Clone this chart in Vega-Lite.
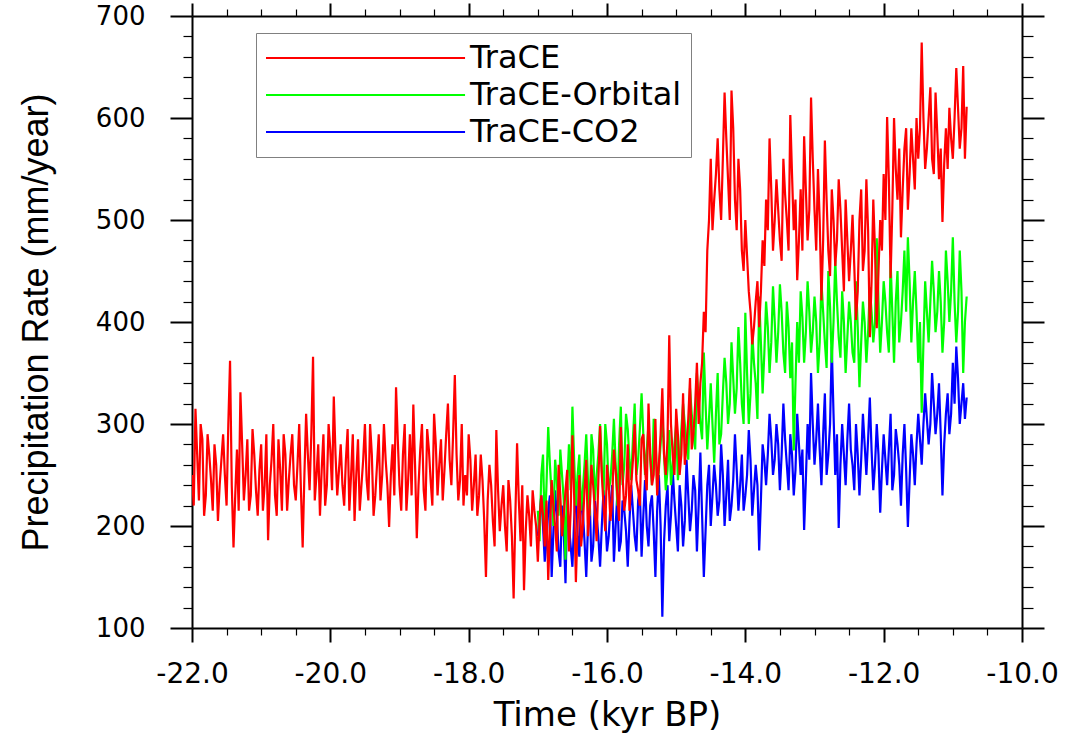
{
"$schema": "https://vega.github.io/schema/vega-lite/v6.json",
"width": 830, "height": 612,
"autosize": {"type": "none"},
"padding": {"left": 192, "top": 16, "right": 43, "bottom": 113},
"background": "white",
"config": {
  "view": {"stroke": null},
  "axis": {"domainColor": "black", "domainWidth": 2, "tickColor": "black", "labelColor": "black", "titleColor": "black", "grid": false, "labelFont": "DejaVu Sans", "titleFont": "DejaVu Sans", "titleFontWeight": "normal", "labelOverlap": false, "labelFlush": false, "labelBound": false}
},
"data": {"values": [
{"t":-22.00,"r":250},{"t":-21.95,"r":315},{"t":-21.90,"r":225},{"t":-21.85,"r":285},{"t":-21.80,"r":230},{"t":-21.75,"r":270},{"t":-21.70,"r":215},{"t":-21.65,"r":260},{"t":-21.60,"r":240},{"t":-21.55,"r":290},{"t":-21.50,"r":220},{"t":-21.45,"r":362},{"t":-21.40,"r":179},{"t":-21.35,"r":275},{"t":-21.30,"r":331},{"t":-21.25,"r":225},{"t":-21.20,"r":285},{"t":-21.15,"r":230},{"t":-21.10,"r":270},{"t":-21.05,"r":210},{"t":-21.00,"r":280},{"t":-20.95,"r":240},{"t":-20.90,"r":186},{"t":-20.85,"r":265},{"t":-20.80,"r":230},{"t":-20.75,"r":285},{"t":-20.70,"r":215},{"t":-20.65,"r":270},{"t":-20.60,"r":245},{"t":-20.55,"r":290},{"t":-20.50,"r":225},{"t":-20.45,"r":300},{"t":-20.40,"r":179},{"t":-20.35,"r":310},{"t":-20.30,"r":235},{"t":-20.25,"r":366},{"t":-20.20,"r":250},{"t":-20.15,"r":210},{"t":-20.10,"r":290},{"t":-20.05,"r":240},{"t":-20.00,"r":275},{"t":-19.95,"r":327},{"t":-19.90,"r":230},{"t":-19.85,"r":280},{"t":-19.80,"r":220},{"t":-19.75,"r":295},{"t":-19.70,"r":250},{"t":-19.65,"r":205},{"t":-19.60,"r":285},{"t":-19.55,"r":240},{"t":-19.50,"r":300},{"t":-19.45,"r":225},{"t":-19.40,"r":270},{"t":-19.35,"r":230},{"t":-19.30,"r":290},{"t":-19.25,"r":250},{"t":-19.20,"r":265},{"t":-19.15,"r":199},{"t":-19.10,"r":280},{"t":-19.05,"r":336},{"t":-19.00,"r":240},
{"t":-18.95,"r":270},{"t":-18.90,"r":215},{"t":-18.85,"r":290},{"t":-18.80,"r":319},{"t":-18.75,"r":188},{"t":-18.70,"r":275},{"t":-18.65,"r":235},{"t":-18.60,"r":295},{"t":-18.55,"r":245},{"t":-18.50,"r":310},{"t":-18.45,"r":230},{"t":-18.40,"r":285},{"t":-18.35,"r":255},{"t":-18.30,"r":320},{"t":-18.25,"r":240},{"t":-18.20,"r":348},{"t":-18.15,"r":225},{"t":-18.10,"r":300},{"t":-18.05,"r":250},{"t":-18.00,"r":290},{"t":-17.95,"r":215},{"t":-17.90,"r":270},{"t":-17.85,"r":230},{"t":-17.80,"r":245},{"t":-17.75,"r":150},{"t":-17.70,"r":260},{"t":-17.65,"r":205},{"t":-17.60,"r":294},{"t":-17.55,"r":195},{"t":-17.50,"r":240},{"t":-17.45,"r":175},{"t":-17.40,"r":225},{"t":-17.35,"r":129},{"t":-17.30,"r":281},{"t":-17.25,"r":185},{"t":-17.20,"r":137},{"t":-17.15,"r":230},{"t":-17.10,"r":180},{"t":-17.05,"r":215},
{"t":-17.00,"r":165,"g":215,"b":190},{"t":-16.95,"r":230,"g":250,"b":230},{"t":-16.90,"r":180,"g":195,"b":165},{"t":-16.85,"r":147,"g":297,"b":215},{"t":-16.80,"r":245,"g":230,"b":150},{"t":-16.75,"r":200,"g":265,"b":235},{"t":-16.70,"r":260,"g":210,"b":175},{"t":-16.65,"r":190,"g":250,"b":220},{"t":-16.60,"r":235,"g":167,"b":144},{"t":-16.55,"r":175,"g":280,"b":200},{"t":-16.50,"r":289,"g":317,"b":160},{"t":-16.45,"r":145,"g":220,"b":240},{"t":-16.40,"r":250,"g":270,"b":170},{"t":-16.35,"r":200,"g":235,"b":215},{"t":-16.30,"r":265,"g":290,"b":150},{"t":-16.25,"r":215,"g":210,"b":225},{"t":-16.20,"r":240,"g":275,"b":180},{"t":-16.15,"r":185,"g":250,"b":210},{"t":-16.10,"r":298,"g":300,"b":160},{"t":-16.05,"r":220,"g":230,"b":235},{"t":-16.00,"r":260,"g":280,"b":175},{"t":-15.95,"r":205,"g":245,"b":220},{"t":-15.90,"r":275,"g":305,"b":165},{"t":-15.85,"r":230,"g":220,"b":232},{"t":-15.80,"r":297,"g":317,"b":185},{"t":-15.75,"r":215,"g":260,"b":215},{"t":-15.70,"r":280,"g":295,"b":160},{"t":-15.65,"r":240,"g":245,"b":240},{"t":-15.60,"r":300,"g":320,"b":190},{"t":-15.55,"r":235,"g":265,"b":225},{"t":-15.50,"r":285,"g":330,"b":170},{"t":-15.45,"r":255,"g":250,"b":245},{"t":-15.40,"r":320,"g":300,"b":180},{"t":-15.35,"r":240,"g":240,"b":230},{"t":-15.30,"r":305,"g":290,"b":150},{"t":-15.25,"r":260,"g":255,"b":250},{"t":-15.20,"r":335,"g":310,"b":111},{"t":-15.15,"r":250,"g":235,"b":220},{"t":-15.10,"r":387,"g":294,"b":185},{"t":-15.05,"r":270,"g":260,"b":255},{"t":-15.00,"r":315,"g":300,"b":200},{"t":-14.95,"r":250,"g":265,"b":240},{"t":-14.90,"r":330,"g":320,"b":180},{"t":-14.85,"r":280,"g":280,"b":265},{"t":-14.80,"r":345,"g":335,"b":195},{"t":-14.75,"r":290,"g":290,"b":250},{"t":-14.70,"r":360,"g":350,"b":175},{"t":-14.65,"r":340,"g":300,"b":272},{"t":-14.60,"r":410,"g":370,"b":150},{"t":-14.55,"r":470,"g":275,"b":240},{"t":-14.50,"r":560,"g":340,"b":200},{"t":-14.45,"r":520,"g":262,"b":260},{"t":-14.40,"r":580,"g":350,"b":210},{"t":-14.35,"r":500,"g":290,"b":280},{"t":-14.30,"r":625,"g":365,"b":200},{"t":-14.25,"r":540,"g":300,"b":265},{"t":-14.20,"r":627,"g":380,"b":220},{"t":-14.15,"r":520,"g":310,"b":290},{"t":-14.10,"r":560,"g":395,"b":215},{"t":-14.05,"r":470,"g":320,"b":270},{"t":-14.00,"r":500,"g":409,"b":230},{"t":-13.95,"r":430,"g":300,"b":294},{"t":-13.90,"r":378,"g":390,"b":210},{"t":-13.85,"r":420,"g":340,"b":260},{"t":-13.80,"r":395,"g":425,"b":176},{"t":-13.75,"r":480,"g":330,"b":280},{"t":-13.70,"r":520,"g":420,"b":240},{"t":-13.65,"r":580,"g":350,"b":310},{"t":-13.60,"r":470,"g":435,"b":250},{"t":-13.55,"r":540,"g":360,"b":300},{"t":-13.50,"r":480,"g":437,"b":235},{"t":-13.45,"r":560,"g":370,"b":320},{"t":-13.40,"r":500,"g":420,"b":260},{"t":-13.35,"r":603,"g":345,"b":290},{"t":-13.30,"r":490,"g":274,"b":230},{"t":-13.25,"r":441,"g":400,"b":310},{"t":-13.20,"r":530,"g":430,"b":250},{"t":-13.15,"r":582,"g":360,"b":196},{"t":-13.10,"r":480,"g":440,"b":300},{"t":-13.05,"r":620,"g":370,"b":350},{"t":-13.00,"r":510,"g":425,"b":260},{"t":-12.95,"r":550,"g":350,"b":320},{"t":-12.90,"r":421,"g":440,"b":240},{"t":-12.85,"r":578,"g":380,"b":330},{"t":-12.80,"r":470,"g":450,"b":270},{"t":-12.75,"r":530,"g":360,"b":376},{"t":-12.70,"r":455,"g":461,"b":250},{"t":-12.65,"r":540,"g":385,"b":198},{"t":-12.60,"r":470,"g":430,"b":300},{"t":-12.55,"r":520,"g":350,"b":240},{"t":-12.50,"r":440,"g":420,"b":320},{"t":-12.45,"r":505,"g":370,"b":260},{"t":-12.40,"r":402,"g":440,"b":300},{"t":-12.35,"r":500,"g":336,"b":230},{"t":-12.30,"r":450,"g":420,"b":310},{"t":-12.25,"r":540,"g":360,"b":250},{"t":-12.20,"r":385,"g":434,"b":326},{"t":-12.15,"r":520,"g":380,"b":235},{"t":-12.10,"r":394,"g":482,"b":300},{"t":-12.05,"r":500,"g":370,"b":213},{"t":-12.00,"r":545,"g":440,"b":290},{"t":-11.95,"r":601,"g":390,"b":240},{"t":-11.90,"r":443,"g":460,"b":310},{"t":-11.85,"r":600,"g":360,"b":250},{"t":-11.80,"r":520,"g":450,"b":280},{"t":-11.75,"r":483,"g":400,"b":220},{"t":-11.70,"r":570,"g":470,"b":300},{"t":-11.65,"r":510,"g":483,"b":199},{"t":-11.60,"r":590,"g":380,"b":290},{"t":-11.55,"r":530,"g":450,"b":240},{"t":-11.50,"r":560,"g":360,"b":310},{"t":-11.45,"r":674,"g":311,"b":260},{"t":-11.40,"r":550,"g":440,"b":330},{"t":-11.35,"r":600,"g":380,"b":280},{"t":-11.30,"r":560,"g":460,"b":350},{"t":-11.25,"r":625,"g":390,"b":290},{"t":-11.20,"r":540,"g":450,"b":340},{"t":-11.15,"r":498,"g":370,"b":230},{"t":-11.10,"r":590,"g":470,"b":310},{"t":-11.05,"r":610,"g":400,"b":290},{"t":-11.00,"r":560,"g":483,"b":360},{"t":-10.95,"r":649,"g":380,"b":376},{"t":-10.90,"r":570,"g":470,"b":300},{"t":-10.85,"r":651,"g":350,"b":340},{"t":-10.80,"r":611,"g":425,"b":326},
{"t":-21.975,"r":220},{"t":-21.925,"r":270},{"t":-21.875,"r":300},{"t":-21.825,"r":210},{"t":-21.775,"r":290},{"t":-21.725,"r":245},{"t":-21.675,"r":280},{"t":-21.625,"r":205},{"t":-21.575,"r":265},{"t":-21.525,"r":250},{"t":-21.475,"r":300},{"t":-21.425,"r":240},{"t":-21.375,"r":230},{"t":-21.325,"r":215},{"t":-21.275,"r":280},{"t":-21.225,"r":250},{"t":-21.175,"r":215},{"t":-21.125,"r":295},{"t":-21.075,"r":235},{"t":-21.025,"r":255},{"t":-20.975,"r":215},{"t":-20.925,"r":290},{"t":-20.875,"r":240},{"t":-20.825,"r":300},{"t":-20.775,"r":210},{"t":-20.725,"r":255},{"t":-20.675,"r":290},{"t":-20.625,"r":215},{"t":-20.575,"r":270},{"t":-20.525,"r":240},{"t":-20.475,"r":260},{"t":-20.425,"r":235},{"t":-20.375,"r":250},{"t":-20.325,"r":270},{"t":-20.275,"r":290},{"t":-20.225,"r":225},{"t":-20.175,"r":280},{"t":-20.125,"r":255},{"t":-20.075,"r":220},{"t":-20.025,"r":300},{"t":-19.975,"r":235},{"t":-19.925,"r":270},{"t":-19.875,"r":255},{"t":-19.825,"r":240},{"t":-19.775,"r":265},{"t":-19.725,"r":215},{"t":-19.675,"r":290},{"t":-19.625,"r":250},{"t":-19.575,"r":215},{"t":-19.525,"r":265},{"t":-19.475,"r":245},{"t":-19.425,"r":300},{"t":-19.375,"r":210},{"t":-19.325,"r":260},{"t":-19.275,"r":225},{"t":-19.225,"r":300},{"t":-19.175,"r":240},{"t":-19.125,"r":250},{"t":-19.075,"r":230},{"t":-19.025,"r":285},
{"t":-18.975,"r":215},{"t":-18.925,"r":300},{"t":-18.875,"r":245},{"t":-18.825,"r":230},{"t":-18.775,"r":260},{"t":-18.725,"r":240},{"t":-18.675,"r":300},{"t":-18.625,"r":215},{"t":-18.575,"r":275},{"t":-18.525,"r":220},{"t":-18.475,"r":280},{"t":-18.425,"r":260},{"t":-18.375,"r":225},{"t":-18.325,"r":290},{"t":-18.275,"r":265},{"t":-18.225,"r":290},{"t":-18.175,"r":270},{"t":-18.125,"r":245},{"t":-18.075,"r":220},{"t":-18.025,"r":230},{"t":-17.975,"r":265},{"t":-17.925,"r":240},{"t":-17.875,"r":210},{"t":-17.825,"r":270},{"t":-17.775,"r":205},{"t":-17.725,"r":225},{"t":-17.675,"r":240},{"t":-17.625,"r":180},{"t":-17.575,"r":235},{"t":-17.525,"r":220},{"t":-17.475,"r":200},{"t":-17.425,"r":245},{"t":-17.375,"r":190},{"t":-17.325,"r":210},{"t":-17.275,"r":225},{"t":-17.225,"r":240},{"t":-17.175,"r":195},{"t":-17.125,"r":210},{"t":-17.075,"r":235},{"t":-17.025,"r":200},
{"t":-16.975,"r":205,"g":185,"b":210},{"t":-16.925,"r":210,"g":270,"b":200},{"t":-16.875,"r":225,"g":240,"b":185},{"t":-16.825,"r":195,"g":260,"b":230},{"t":-16.775,"r":220,"g":200,"b":195},{"t":-16.725,"r":175,"g":245,"b":210},{"t":-16.675,"r":230,"g":275,"b":160},{"t":-16.625,"r":210,"g":225,"b":195},{"t":-16.575,"r":255,"g":240,"b":220},{"t":-16.525,"r":215,"g":235,"b":180},{"t":-16.475,"r":230,"g":265,"b":205},{"t":-16.425,"r":200,"g":250,"b":190},{"t":-16.375,"r":180,"g":215,"b":230},{"t":-16.325,"r":235,"g":260,"b":185},{"t":-16.275,"r":190,"g":245,"b":200},{"t":-16.225,"r":260,"g":290,"b":165},{"t":-16.175,"r":215,"g":225,"b":225},{"t":-16.125,"r":245,"g":270,"b":190},{"t":-16.075,"r":250,"g":255,"b":200},{"t":-16.025,"r":195,"g":300,"b":210},{"t":-15.975,"r":240,"g":235,"b":190},{"t":-15.925,"r":225,"g":270,"b":240},{"t":-15.875,"r":255,"g":260,"b":200},{"t":-15.825,"r":205,"g":280,"b":175},{"t":-15.775,"r":250,"g":240,"b":225},{"t":-15.725,"r":230,"g":310,"b":195},{"t":-15.675,"r":215,"g":265,"b":205},{"t":-15.625,"r":265,"g":285,"b":215},{"t":-15.575,"r":245,"g":250,"b":175},{"t":-15.525,"r":220,"g":295,"b":235},{"t":-15.475,"r":290,"g":290,"b":210},{"t":-15.425,"r":235,"g":275,"b":200},{"t":-15.375,"r":270,"g":265,"b":220},{"t":-15.325,"r":250,"g":305,"b":195},{"t":-15.275,"r":230,"g":235,"b":215},{"t":-15.225,"r":290,"g":280,"b":200},{"t":-15.175,"r":270,"g":270,"b":185},{"t":-15.125,"r":285,"g":255,"b":240},{"t":-15.075,"r":300,"g":240,"b":210},{"t":-15.025,"r":250,"g":280,"b":225},{"t":-14.975,"r":290,"g":245,"b":175},{"t":-14.925,"r":270,"g":295,"b":220},{"t":-14.875,"r":260,"g":300,"b":205},{"t":-14.825,"r":305,"g":265,"b":230},{"t":-14.775,"r":275,"g":310,"b":215},{"t":-14.725,"r":320,"g":275,"b":235},{"t":-14.675,"r":300,"g":325,"b":220},{"t":-14.625,"r":360,"g":285,"b":210},{"t":-14.575,"r":390,"g":320,"b":195},{"t":-14.525,"r":500,"g":305,"b":260},{"t":-14.475,"r":490,"g":300,"b":230},{"t":-14.425,"r":545,"g":310,"b":240},{"t":-14.375,"r":530,"g":280,"b":225},{"t":-14.325,"r":560,"g":330,"b":250},{"t":-14.275,"r":580,"g":340,"b":230},{"t":-14.225,"r":500,"g":320,"b":205},{"t":-14.175,"r":590,"g":345,"b":245},{"t":-14.125,"r":490,"g":335,"b":255},{"t":-14.075,"r":530,"g":360,"b":240},{"t":-14.025,"r":450,"g":300,"b":215},{"t":-13.975,"r":465,"g":350,"b":250},{"t":-13.925,"r":410,"g":330,"b":265},{"t":-13.875,"r":395,"g":360,"b":235},{"t":-13.825,"r":440,"g":305,"b":240},{"t":-13.775,"r":430,"g":380,"b":225},{"t":-13.725,"r":455,"g":370,"b":265},{"t":-13.675,"r":490,"g":395,"b":270},{"t":-13.625,"r":530,"g":380,"b":285},{"t":-13.575,"r":500,"g":400,"b":265},{"t":-13.525,"r":510,"g":390,"b":280},{"t":-13.475,"r":460,"g":410,"b":270},{"t":-13.425,"r":525,"g":350,"b":285},{"t":-13.375,"r":470,"g":395,"b":235},{"t":-13.325,"r":545,"g":380,"b":270},{"t":-13.275,"r":520,"g":340,"b":255},{"t":-13.225,"r":480,"g":360,"b":280},{"t":-13.175,"r":470,"g":405,"b":275},{"t":-13.125,"r":530,"g":390,"b":245},{"t":-13.075,"r":510,"g":410,"b":265},{"t":-13.025,"r":560,"g":390,"b":300},{"t":-12.975,"r":470,"g":400,"b":285},{"t":-12.925,"r":500,"g":380,"b":275},{"t":-12.875,"r":480,"g":410,"b":290},{"t":-12.825,"r":520,"g":355,"b":250},{"t":-12.775,"r":445,"g":415,"b":300},{"t":-12.725,"r":500,"g":400,"b":310},{"t":-12.675,"r":480,"g":420,"b":290},{"t":-12.625,"r":510,"g":365,"b":260},{"t":-12.575,"r":430,"g":400,"b":270},{"t":-12.525,"r":480,"g":385,"b":285},{"t":-12.475,"r":470,"g":400,"b":275},{"t":-12.425,"r":455,"g":360,"b":235},{"t":-12.375,"r":430,"g":395,"b":270},{"t":-12.325,"r":530,"g":380,"b":265},{"t":-12.275,"r":470,"g":400,"b":280},{"t":-12.225,"r":490,"g":390,"b":285},{"t":-12.175,"r":440,"g":410,"b":275},{"t":-12.125,"r":470,"g":400,"b":260},{"t":-12.075,"r":450,"g":420,"b":270},{"t":-12.025,"r":470,"g":400,"b":255},{"t":-11.975,"r":500,"g":420,"b":265},{"t":-11.925,"r":540,"g":370,"b":275},{"t":-11.875,"r":510,"g":410,"b":235},{"t":-11.825,"r":550,"g":420,"b":295},{"t":-11.775,"r":570,"g":380,"b":260},{"t":-11.725,"r":530,"g":430,"b":270},{"t":-11.675,"r":590,"g":410,"b":255},{"t":-11.625,"r":545,"g":440,"b":245},{"t":-11.575,"r":560,"g":420,"b":270},{"t":-11.525,"r":600,"g":410,"b":280},{"t":-11.475,"r":590,"g":400,"b":285},{"t":-11.425,"r":600,"g":380,"b":300},{"t":-11.375,"r":570,"g":410,"b":305},{"t":-11.325,"r":630,"g":420,"b":300},{"t":-11.275,"r":545,"g":430,"b":320},{"t":-11.225,"r":585,"g":410,"b":310},{"t":-11.175,"r":570,"g":420,"b":290},{"t":-11.125,"r":555,"g":400,"b":280},{"t":-11.075,"r":550,"g":440,"b":330},{"t":-11.025,"r":580,"g":430,"b":310},{"t":-10.975,"r":600,"g":420,"b":320},{"t":-10.925,"r":610,"g":410,"b":345},{"t":-10.875,"r":590,"g":430,"b":320},{"t":-10.825,"r":560,"g":400,"b":305}
]},
"layer": [
  {
    "transform": [{"filter": "isValid(datum.b)"}],
    "mark": {"type": "line", "strokeWidth": 2.2, "clip": true},
    "encoding": {
      "x": {"field": "t", "type": "quantitative", "scale": {"domain": [-22, -10], "nice": false, "zero": false},
        "axis": {"orient": "top", "title": null, "labels": false,
          "values": [-22,-21.5,-21,-20.5,-20,-19.5,-19,-18.5,-18,-17.5,-17,-16.5,-16,-15.5,-15,-14.5,-14,-13.5,-13,-12.5,-12,-11.5,-11,-10.5,-10],
          "tickSize": {"condition": {"test": "datum.value % 2 === 0", "value": 13}, "value": 7},
          "tickWidth": {"condition": {"test": "datum.value % 2 === 0", "value": 2}, "value": 1.2}}},
      "y": {"field": "b", "type": "quantitative", "scale": {"domain": [100, 700], "nice": false, "zero": false},
        "axis": {"orient": "right", "title": null, "labels": false,
          "values": [100,120,140,160,180,200,220,240,260,280,300,320,340,360,380,400,420,440,460,480,500,520,540,560,580,600,620,640,660,680,700],
          "tickSize": {"condition": {"test": "datum.value % 100 === 0", "value": 22}, "value": 11},
          "tickWidth": {"condition": {"test": "datum.value % 100 === 0", "value": 2}, "value": 1.2}}},
      "color": {"datum": "TraCE-CO2", "type": "nominal",
        "scale": {"domain": ["TraCE", "TraCE-Orbital", "TraCE-CO2"], "range": ["#ff0000", "#00ff00", "#0000ff"]},
        "legend": {"title": null, "orient": "none", "legendX": 64, "legendY": 17, "symbolType": "M-1,0H12.27", "symbolSize": 900, "symbolStrokeWidth": 2, "labelFont": "DejaVu Sans", "labelFontSize": 32, "labelColor": "black", "labelOffset": 173, "padding": 9, "rowPadding": 5, "strokeColor": "#808080", "fillColor": "white", "labelLimit": 500}}
    }
  },
  {
    "transform": [{"filter": "isValid(datum.g)"}],
    "mark": {"type": "line", "strokeWidth": 2.2, "clip": true},
    "encoding": {
      "x": {"field": "t", "type": "quantitative", "scale": {"domain": [-22, -10], "nice": false, "zero": false}, "axis": null},
      "y": {"field": "g", "type": "quantitative", "scale": {"domain": [100, 700], "nice": false, "zero": false}, "axis": null},
      "color": {"datum": "TraCE-Orbital", "type": "nominal"}
    }
  },
  {
    "mark": {"type": "line", "strokeWidth": 2.2, "clip": true},
    "encoding": {
      "x": {"field": "t", "type": "quantitative", "scale": {"domain": [-22, -10], "nice": false, "zero": false},
        "axis": {"orient": "bottom", "title": "Time (kyr BP)", "titleFontSize": 34, "titlePadding": 10,
          "labelFontSize": 28, "labelPadding": 18,
          "values": [-22,-21.5,-21,-20.5,-20,-19.5,-19,-18.5,-18,-17.5,-17,-16.5,-16,-15.5,-15,-14.5,-14,-13.5,-13,-12.5,-12,-11.5,-11,-10.5,-10],
          "labelExpr": "datum.value % 2 === 0 ? (datum.value < 0 ? '-' : '') + format(abs(datum.value), '.1f') : ''",
          "tickSize": {"condition": {"test": "datum.value % 2 === 0", "value": 14}, "value": 7},
          "tickWidth": {"condition": {"test": "datum.value % 2 === 0", "value": 2}, "value": 1.2}}},
      "y": {"field": "r", "type": "quantitative", "scale": {"domain": [100, 700], "nice": false, "zero": false},
        "axis": {"orient": "left", "title": "Precipitation Rate (mm/year)", "titleFont": "Liberation Sans", "titleFontSize": 36, "titlePadding": 40,
          "labelFontSize": 26, "labelPadding": 25,
          "values": [100,120,140,160,180,200,220,240,260,280,300,320,340,360,380,400,420,440,460,480,500,520,540,560,580,600,620,640,660,680,700],
          "labelExpr": "datum.value % 100 === 0 ? datum.label : ''",
          "tickSize": {"condition": {"test": "datum.value % 100 === 0", "value": 22}, "value": 9},
          "tickWidth": {"condition": {"test": "datum.value % 100 === 0", "value": 2}, "value": 1.2}}},
      "color": {"datum": "TraCE", "type": "nominal"}
    }
  }
],
"resolve": {"scale": {"x": "independent", "y": "independent"}}
}
